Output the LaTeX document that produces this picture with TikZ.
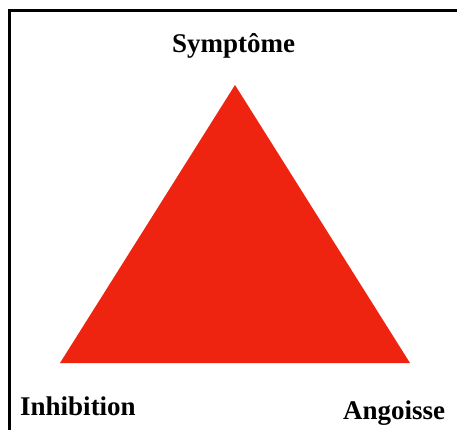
\documentclass[tikz,border=0pt]{standalone}
\usepackage{fontspec}
\setmainfont{Liberation Serif}
\usepackage{tikz}

\definecolor{trired}{RGB}{239,36,16}

\tikzset{
    pole/.style={font=\fontsize{27}{30}\selectfont\bfseries, inner sep=0pt},
}

\begin{document}
\begin{tikzpicture}[x=1pt, y=-1pt]

    \useasboundingbox (0,0) rectangle (457,430);

    \draw[line width=3pt] (9.5,430) -- (9.5,11) -- (457,11);

    \coordinate (top) at (235,85);
    \coordinate (left) at (60,363);
    \coordinate (right) at (410,363);

    \fill[trired] (top) -- (left) -- (right) -- cycle;

    \node[pole, anchor=base] (sym) at (233.5,53) {Symptôme};
    \node[pole, anchor=base west] (inh) at (20,415) {Inhibition};
    \node[pole, anchor=base west] (ang) at (343,419) {Angoisse};

\end{tikzpicture}
\end{document}
